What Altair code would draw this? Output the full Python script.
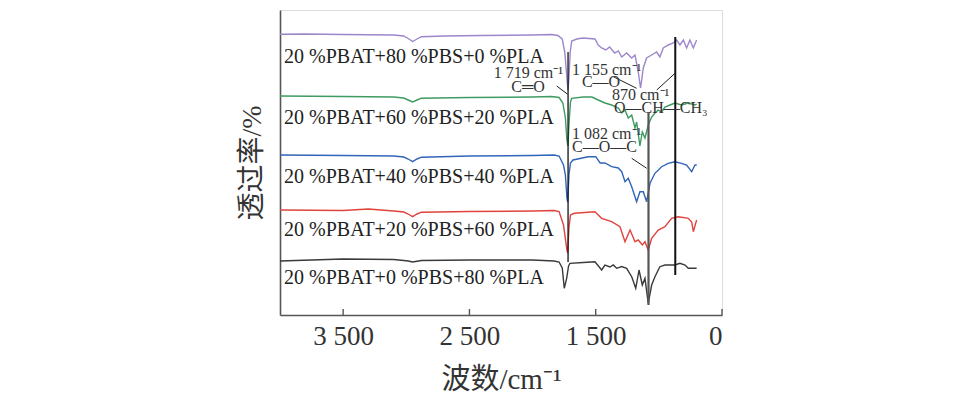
import altair as alt
import pandas as pd

# ---------------- data ----------------
wn_purple = [4000, 3800, 3500, 3100, 3020, 2985, 2950, 2915, 2880, 2700, 2400, 2000, 1850, 1800, 1765, 1745, 1730, 1720, 1712, 1702, 1690, 1650, 1600, 1506, 1480, 1453, 1420, 1390, 1350, 1321, 1294, 1255, 1215, 1189, 1163, 1145, 1123, 1097, 1057, 1018, 992, 965, 926, 886, 859, 833, 806, 780, 754, 727, 701]
t_purple = [280.7, 281, 280.5, 280, 279, 276.5, 273.5, 276, 278.3, 279, 279.5, 280, 280.5, 279.5, 276, 263, 240, 225, 237, 263, 274, 276, 277, 276, 270, 267, 265, 268, 262, 264, 258, 262, 257, 260, 243, 227, 247, 257, 260, 263, 258, 267, 270, 272, 275, 270, 275, 267, 275, 267, 275]

wn_green = [4000, 3500, 3100, 3020, 2985, 2950, 2915, 2880, 2500, 2000, 1850, 1790, 1760, 1740, 1728, 1720, 1712, 1700, 1690, 1600, 1530, 1480, 1427, 1374, 1321, 1294, 1268, 1242, 1215, 1189, 1176, 1150, 1131, 1110, 1084, 1057, 1031, 1005, 978, 952, 912, 873, 820, 767, 714, 700]
t_green = [219, 218.5, 218, 217, 215, 213, 215, 216.8, 217.5, 218, 218.5, 217.5, 212, 197, 175, 169, 190, 213, 216.7, 218, 218, 215, 212, 210, 207, 202, 205, 197, 200, 187, 193, 169, 183, 177, 190, 198, 202, 205, 203, 208, 210, 212, 210, 212, 210, 211]

wn_blue = [4000, 3500, 3100, 3020, 2985, 2950, 2915, 2880, 2500, 2000, 1830, 1790, 1755, 1740, 1728, 1722, 1712, 1700, 1680, 1560, 1500, 1465, 1427, 1374, 1321, 1294, 1268, 1242, 1215, 1176, 1150, 1123, 1097, 1070, 1031, 978, 926, 873, 820, 780, 740, 714, 700]
t_blue = [160, 159.5, 159, 158, 156, 153.3, 156, 157.8, 159, 159.5, 160, 159, 150, 140, 117, 113, 140, 152, 155, 158.3, 158.3, 152, 152, 148.3, 147, 143.3, 133.3, 136.7, 128.3, 113.3, 123.3, 123.3, 113.3, 131.7, 141.7, 148.3, 151.7, 153.3, 151.7, 150, 143.3, 150, 150]

wn_red = [4000, 3500, 3300, 3100, 3020, 2985, 2950, 2915, 2880, 2500, 2000, 1830, 1790, 1755, 1728, 1722, 1712, 1700, 1670, 1506, 1453, 1374, 1308, 1268, 1228, 1189, 1163, 1131, 1110, 1084, 1057, 1005, 952, 899, 846, 767, 740, 727, 701]
t_red = [105, 104.5, 106, 104, 103, 101, 98.3, 101, 102.8, 103.5, 104, 104.5, 103.5, 90, 65, 62, 87, 100, 101.7, 103.3, 96.7, 93.3, 88.3, 73.3, 85, 73.3, 75, 70, 73.3, 65, 76.7, 85, 88.3, 96.7, 98.3, 96.7, 93, 83.3, 95]

wn_black = [4000, 3500, 3100, 3020, 2985, 2950, 2915, 2880, 2500, 2000, 1830, 1790, 1765, 1749, 1730, 1715, 1704, 1600, 1506, 1453, 1427, 1387, 1361, 1334, 1295, 1255, 1215, 1183, 1157, 1131, 1110, 1084, 1057, 1031, 992, 952, 873, 833, 793, 767, 727, 701]
t_black = [54, 56, 55.5, 54.5, 54, 53, 53.8, 54.5, 55, 55, 54, 53, 47, 26.7, 36.7, 49, 51.7, 52.5, 53.3, 45, 50, 48, 50, 46.7, 48.5, 46.7, 38.3, 26.7, 45, 30, 36.7, 11.7, 30, 38.3, 48.3, 50, 50, 51.7, 50, 46.7, 46.7, 46.7]

series_names = ["20 %PBAT+80 %PBS+0 %PLA", "20 %PBAT+60 %PBS+20 %PLA",
                "20 %PBAT+40 %PBS+40 %PLA", "20 %PBAT+20 %PBS+60 %PLA",
                "20 %PBAT+0 %PBS+80 %PLA"]
series_colors = ["#9d86cc", "#3f9b62", "#3065ba", "#e0443e", "#3a3a3a"]
label_y = [258, 197, 138, 85, 37]
label_x = 3968

tick_values = [3500, 2500, 1500, 500]
tick_labels = ["3 500", "2 500", "1 500", "0"]

# annotation texts
ann_text = ["1 719 cm⁻¹", "C═O", "1 155 cm⁻¹", "C—O", "870 cm⁻¹", "O—CH—CH₃", "1 082 cm⁻¹", "C—O—C"]
ann_x = [1759, 2036, 1688, 1609, 1371, 1355, 1688, 1688]
ann_y = [242, 228, 245, 233, 220, 207, 181, 168]
ann_align = ["right", "center", "left", "left", "left", "left", "left", "left"]

# marker lines (vertical)
vline_wn = [1719, 1082, 870]
vline_lo = [53, 10, 40]
vline_hi = [263, 202, 278]
vline_color = ["#111111", "#555555", "#111111"]
vline_width = [1.3, 2.2, 2.0]

# leader lines
lead_x = [1809, 1361, 1017, 1215]
lead_x2 = [1722, 1176, 872, 1096]
lead_y = [229, 238.3, 225, 156.7]
lead_y2 = [220.7, 226.7, 241.7, 146.7]

# ---------------- frames ----------------
rows = []
for name, wns, ts in zip(series_names,
                         [wn_purple, wn_green, wn_blue, wn_red, wn_black],
                         [t_purple, t_green, t_blue, t_red, t_black]):
    for i, (w, t) in enumerate(zip(wns, ts)):
        rows.append({"wn": w, "t": t, "series": name, "i": i})
df = pd.DataFrame(rows)

lab_df = pd.DataFrame({"x": [label_x] * 5, "y": label_y, "text": series_names})
ann_df = pd.DataFrame({"x": ann_x, "y": ann_y, "text": ann_text, "align": ann_align})
vl_df = pd.DataFrame({"x": vline_wn, "y": vline_lo, "y2": vline_hi,
                      "c": vline_color, "w": vline_width})
ld_df = pd.DataFrame({"x": lead_x, "x2": lead_x2, "y": lead_y, "y2": lead_y2})
tk_df = pd.DataFrame({"x": tick_values})

SERIF = "Liberation Serif, Noto Sans CJK SC"
W, H = 442, 305

label_map = " : ".join(f"datum.value == {v} ? '{l}'" for v, l in zip(tick_values, tick_labels)) + " : ''"

xscale = alt.Scale(domain=[500, 4000], reverse=True, nice=False, zero=False)
yscale = alt.Scale(domain=[0, 305], nice=False, zero=False)

xaxis = alt.Axis(values=tick_values, labelExpr=label_map, ticks=False, tickSize=0,
                 grid=False, labelFont=SERIF, labelFontSize=27, labelColor="#333333",
                 labelPadding=8, title="波数/cm⁻¹", titleFont=SERIF, titleFontSize=29,
                 titleFontWeight="normal", titleColor="#333333", titlePadding=16,
                 domainColor="#555555", domainWidth=1.6)
yaxis = alt.Axis(labels=False, ticks=False, tickSize=0, grid=False,
                 title="透过率/%", titleFont=SERIF, titleFontSize=28,
                 titleFontWeight="normal", titleColor="#333333", titlePadding=14,
                 domainColor="#555555", domainWidth=1.6)

lines = alt.Chart(df).mark_line(strokeWidth=1.4, clip=True).encode(
    x=alt.X("wn:Q", scale=xscale, axis=xaxis),
    y=alt.Y("t:Q", scale=yscale, axis=yaxis),
    color=alt.Color("series:N", scale=alt.Scale(domain=series_names, range=series_colors), legend=None),
    order="i:Q",
)

vlines = alt.Chart(vl_df).mark_rule().encode(
    x=alt.X("x:Q", scale=xscale), y=alt.Y("y:Q", scale=yscale), y2="y2:Q",
    color=alt.Color("c:N", scale=None), strokeWidth=alt.StrokeWidth("w:Q", scale=None),
)

leads = alt.Chart(ld_df).mark_rule(color="#222222", strokeWidth=1).encode(
    x=alt.X("x:Q", scale=xscale), x2="x2:Q", y=alt.Y("y:Q", scale=yscale), y2="y2:Q",
)

ticks = alt.Chart(tk_df).mark_rule(color="#555555", strokeWidth=1.4).encode(
    x=alt.X("x:Q", scale=xscale), y=alt.value(H), y2=alt.value(H - 6),
)

labels = alt.Chart(lab_df).mark_text(align="left", baseline="middle", font=SERIF,
                                     fontSize=20, color="#222222").encode(
    x=alt.X("x:Q", scale=xscale), y=alt.Y("y:Q", scale=yscale), text="text:N",
)

ann_layers = []
for al in ["left", "right", "center"]:
    sub = ann_df[ann_df["align"] == al]
    ann_layers.append(alt.Chart(sub).mark_text(align=al, baseline="middle", font=SERIF,
                                               fontSize=16, color="#333333").encode(
        x=alt.X("x:Q", scale=xscale), y=alt.Y("y:Q", scale=yscale), text="text:N"))

chart = alt.layer(lines, vlines, leads, ticks, labels, *ann_layers).properties(
    width=W, height=H,
    autosize=alt.AutoSizeParams(type="none"),
    padding={"left": 272, "top": 2, "right": 226, "bottom": 89},
).configure_view(stroke=None).configure(background="white")

chart.save("out.html", embed_options={"renderer": "svg", "actions": False})
